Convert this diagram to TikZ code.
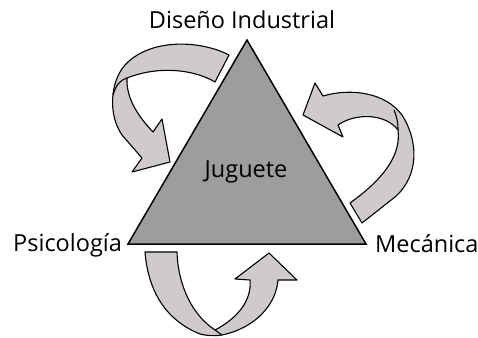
\documentclass[tikz,border=0pt]{standalone}
\usepackage{fontspec}
\setmainfont{Open Sans}
\begin{document}
\begin{tikzpicture}[x=1pt,y=-1pt,
  arrowshape/.style={draw=black,line width=1.1pt,fill=arrowgray,line join=round},
  label/.style={font=\fontsize{23.5}{25}\selectfont,inner sep=0pt,text=black},
]
\definecolor{arrowgray}{HTML}{D0CBCB}
\definecolor{trigray}{HTML}{9D9D9D}
\useasboundingbox (0,0) rectangle (478,337);
% triangle
\coordinate (A) at (247,40);
\coordinate (B) at (128,244);
\coordinate (C) at (366,244);
\draw[line width=1.5pt,fill=trigray,line join=miter] (A) -- (B) -- (C) -- cycle;
% arrow 1 (top left)
\draw[arrowshape] (229,55) .. controls (200,40) and (150,38) .. (125,65)
  .. controls (110,82) and (108,115) .. (122,135)
  -- (142,158) -- (132,172) -- (170,162) -- (162,119) -- (153,132)
  .. controls (140,118) and (126,100) .. (127,78)
  .. controls (160,65) and (195,70) .. (215,82) -- cycle;
\draw[line width=1.1pt] (127,78) .. controls (120,80) and (116,85) .. (113,95);
% arrow 2 (right)
\draw[arrowshape] (323,96) .. controls (350,88) and (385,92) .. (402,115)
  .. controls (418,140) and (420,175) .. (395,197)
  -- (362,223) -- (350,203)
  .. controls (375,185) and (402,160) .. (398,130)
  .. controls (385,113) and (355,113) .. (338,125)
  -- (343,137) -- (303,115) -- (315,83) -- cycle;
\draw[line width=1.1pt] (398,130) .. controls (398,122) and (397,118) .. (394,110);
% arrow 3 (bottom)
\draw[arrowshape] (145,252) -- (177,252)
  .. controls (178,285) and (192,315) .. (215,330)
  .. controls (238,318) and (252,300) .. (250,280)
  -- (235,279) -- (269,253) -- (297,280) -- (278,280)
  .. controls (276,305) and (255,328) .. (222,335)
  .. controls (215,336) and (208,336) .. (200,334)
  .. controls (165,320) and (148,290) .. (145,252) -- cycle;
\draw[line width=1.1pt] (215,330) .. controls (218,332) and (220,334) .. (222,335);
% labels
\node[label,anchor=base] (dis) at (242,29) {Diseño Industrial};
\node[label,anchor=base west] (psi) at (13,251) {Psicología};
\node[label,anchor=base west] (mec) at (375,252) {Mecánica};
\node[label,anchor=base] (jug) at (246,177) {Juguete};
\end{tikzpicture}
\end{document}
